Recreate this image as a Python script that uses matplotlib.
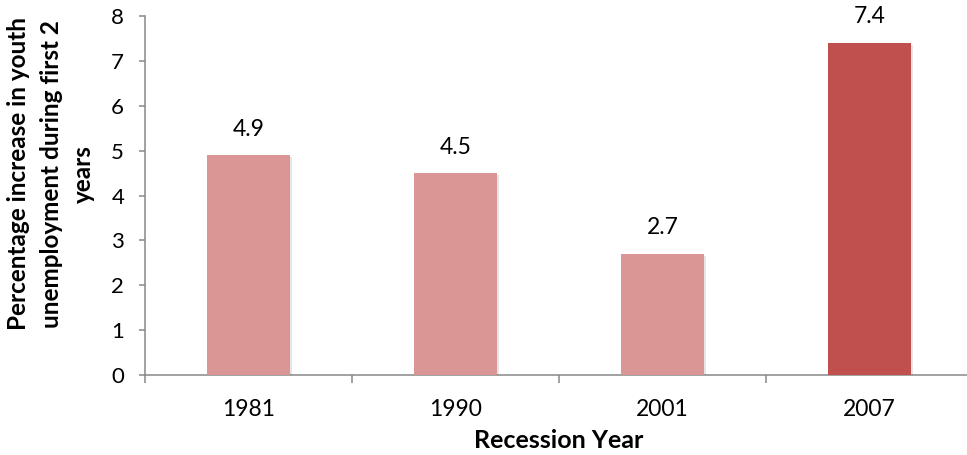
import matplotlib.pyplot as plt
import matplotlib.patheffects as pe

plt.rcParams['font.family'] = ['Lato', 'DejaVu Sans']

anos = ["1981", "1990", "2001", "2007"]
valores = [4.9, 4.5, 2.7, 7.4]
cores = ["#D99694", "#D99694", "#D99694", "#C0504D"]

fig = plt.figure(figsize=(9.67, 4.55), dpi=100)
ax = fig.add_axes([145 / 967, 80 / 455, 828 / 967, 359 / 455])

x = list(range(len(anos)))
barras = ax.bar(x, valores, width=0.4, color=cores, zorder=3)
for b in barras:
    b.set_path_effects([pe.SimplePatchShadow(offset=(1.5, -1.5), shadow_rgbFace="#000000", alpha=0.1),
                        pe.Normal()])

for xi, v in zip(x, valores):
    ax.annotate(f"{v}", (xi, v), xytext=(0, 14), textcoords="offset points",
                ha="center", va="baseline", fontsize=16.5, color="#000000")

ax.set_xlim(-0.5, len(anos) - 0.5)
ax.set_ylim(0, 8)
ax.set_yticks(range(0, 9))
ax.set_xticks(x)
ax.set_xticklabels(anos)
ax.set_xticks([i - 0.5 for i in range(len(anos) + 1)], minor=True)

axis_col = "#888888"
for s in ["top", "right"]:
    ax.spines[s].set_visible(False)
for s in ["left", "bottom"]:
    ax.spines[s].set_color(axis_col)
    ax.spines[s].set_linewidth(1.1)

ax.tick_params(axis="y", colors=axis_col, labelcolor="black", labelsize=16, length=4, width=1.1,
               direction="out", pad=11)
ax.tick_params(axis="x", which="major", length=0, labelsize=16.5, pad=17)
ax.tick_params(axis="x", which="minor", colors=axis_col, length=5.5, width=1.1, direction="out")

ax.set_xlabel("Recession Year", fontsize=18, fontweight="bold", labelpad=7)
ax.set_ylabel("Percentage increase in youth\nunemployment during first 2\nyears", fontsize=17.5,
              fontweight="bold", linespacing=1.5)
ax.yaxis.set_label_coords(-0.060, 0.561)

fig.savefig("out.png", dpi=100)
